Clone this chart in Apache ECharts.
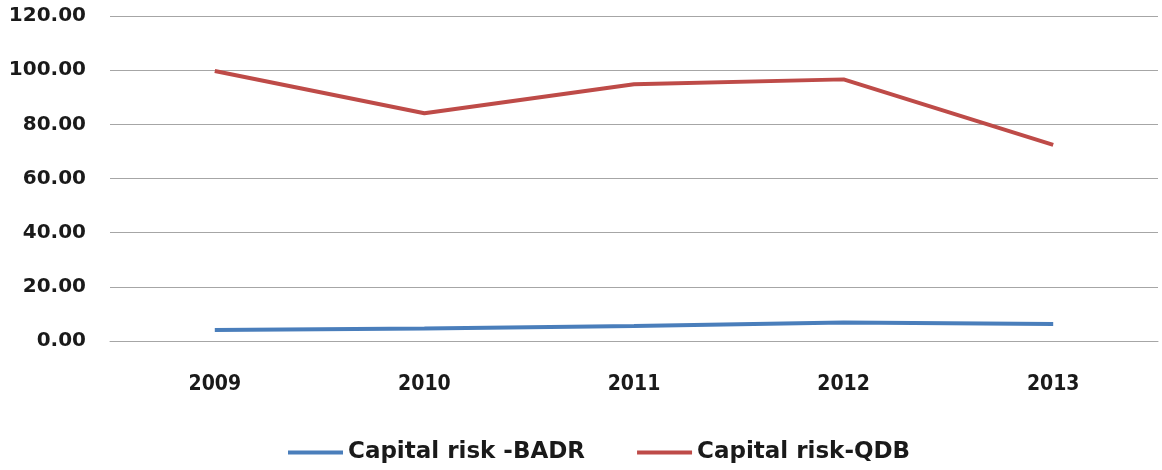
<!DOCTYPE html>
<html>
<head>
<meta charset="utf-8">
<script src="https://cdn.jsdelivr.net/npm/echarts@6/dist/echarts.min.js"></script>
<style>
  html, body { margin: 0; padding: 0; background: #ffffff; }
  #chart { width: 1162px; height: 470px; }
</style>
</head>
<body>
<div id="chart"></div>
<script>
// Capital risk by year, two banks
const years = ['2009', '2010', '2011', '2012', '2013'];
const badr = [4.1, 4.6, 5.5, 6.8, 6.3];
const qdb = [99.7, 84.1, 94.8, 96.6, 72.4];
const seriesNames = ['Capital risk -BADR', 'Capital risk-QDB'];

const chart = echarts.init(document.getElementById('chart'));
chart.setOption({
  animation: false,
  backgroundColor: '#ffffff',
  grid: { left: 110, right: 4, top: 16, bottom: 129 },
  legend: {
    left: 283,
    top: 436,
    itemWidth: 55,
    itemHeight: 4,
    itemGap: 52,
    icon: 'rect',
    textStyle: { fontFamily: 'DejaVu Sans', fontWeight: 'bold', fontSize: 23, color: '#1a1a1a' },
    data: seriesNames
  },
  xAxis: {
    type: 'category',
    data: years,
    boundaryGap: true,
    axisLine: { lineStyle: { color: '#a6a6a6', width: 1 } },
    axisTick: { show: false },
    axisLabel: { margin: 33, fontFamily: 'DejaVu Sans Condensed', fontWeight: 'bold', fontSize: 21, color: '#1a1a1a' }
  },
  yAxis: {
    type: 'value',
    min: 0,
    max: 120,
    interval: 20,
    axisLine: { show: false },
    axisTick: { show: false },
    splitLine: { lineStyle: { color: '#a6a6a6', width: 1 } },
    axisLabel: {
      margin: 24,
      fontFamily: 'DejaVu Sans', fontWeight: 'bold', fontSize: 20, color: '#1a1a1a',
      formatter: v => v.toFixed(2)
    }
  },
  series: [
    {
      name: seriesNames[0], type: 'line', data: badr,
      symbol: 'none',
      lineStyle: { color: '#4a7ebb', width: 4 },
      itemStyle: { color: '#4a7ebb' }
    },
    {
      name: seriesNames[1], type: 'line', data: qdb,
      symbol: 'none',
      lineStyle: { color: '#be4b48', width: 4 },
      itemStyle: { color: '#be4b48' }
    }
  ]
});
</script>
</body>
</html>
